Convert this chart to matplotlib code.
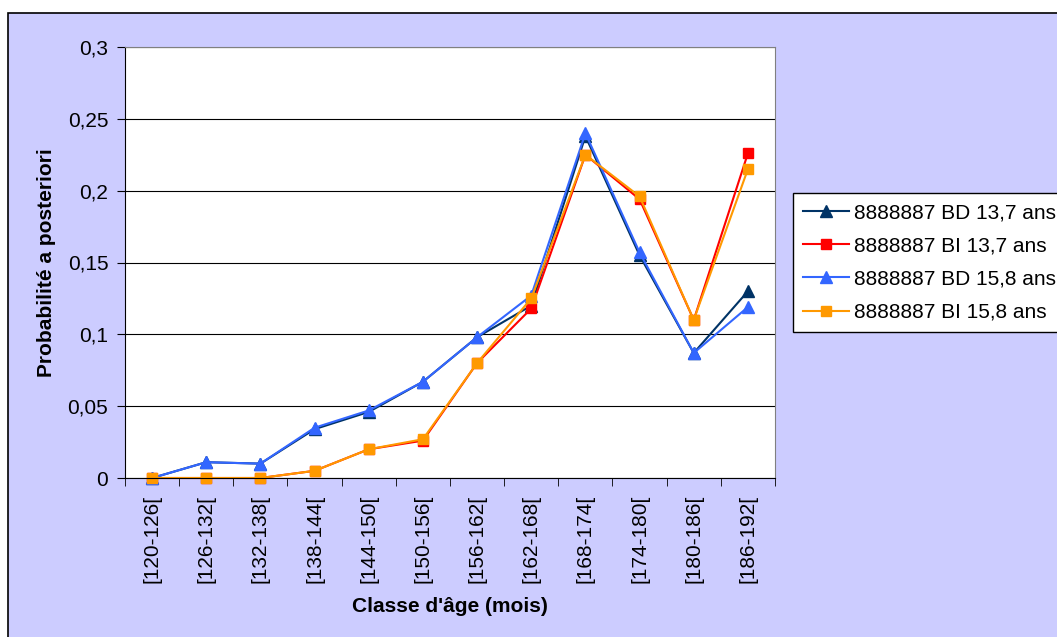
import matplotlib.pyplot as plt
import numpy as np
from matplotlib.patches import Rectangle

plt.rcParams['font.family'] = ['Liberation Sans', 'DejaVu Sans']

classes = ['[120-126[', '[126-132[', '[132-138[', '[138-144[', '[144-150[', '[150-156[',
           '[156-162[', '[162-168[', '[168-174[', '[174-180[', '[180-186[', '[186-192[']

bd_137 = [0.0, 0.011, 0.010, 0.034, 0.046, 0.067, 0.098, 0.120, 0.238, 0.155, 0.087, 0.130]
bi_137 = [0.0, 0.0, 0.0, 0.005, 0.020, 0.026, 0.080, 0.118, 0.225, 0.194, 0.110, 0.226]
bd_158 = [0.0, 0.011, 0.010, 0.035, 0.047, 0.067, 0.098, 0.127, 0.240, 0.157, 0.087, 0.119]
bi_158 = [0.0, 0.0, 0.0, 0.005, 0.020, 0.027, 0.080, 0.125, 0.225, 0.196, 0.110, 0.215]

yticks = [0, 0.05, 0.1, 0.15, 0.2, 0.25, 0.3]
ytick_labels = ['0', '0,05', '0,1', '0,15', '0,2', '0,25', '0,3']

FS = 15
W, H = 1057, 637
fig = plt.figure(figsize=(W / 100, H / 100), dpi=100)
fig.patch.set_facecolor('white')

# chart area background with black frame, behind everything
bg = fig.add_axes([0, 0, 1, 1], zorder=-1)
bg.set_axis_off()
bg.set_xlim(0, 1)
bg.set_ylim(0, 1)
bg.add_patch(Rectangle((8 / W, -0.05), 1.2, 1 - 13 / H + 0.05,
                       facecolor='#CCCCFF', edgecolor='black', linewidth=1.2))

ax = fig.add_axes([125 / W, 1 - 478 / H, 650 / W, 431 / H])
ax.set_facecolor('white')

x = np.arange(len(classes))
style = dict(linewidth=1.5, clip_on=False)
ax.plot(x, bd_137, color='#003366', marker='^', markersize=9, label='8888887 BD 13,7 ans', **style)
ax.plot(x, bi_137, color='#FF0000', marker='s', markersize=7, label='8888887 BI 13,7 ans', **style)
ax.plot(x, bd_158, color='#3366FF', marker='^', markersize=9, label='8888887 BD 15,8 ans', **style)
ax.plot(x, bi_158, color='#FF9900', marker='s', markersize=7, label='8888887 BI 15,8 ans', **style)

ax.set_xlim(-0.5, len(classes) - 0.5)
ax.set_ylim(0, 0.3)
ax.set_yticks(yticks)
ax.set_yticklabels(ytick_labels, fontsize=FS)
ax.yaxis.grid(True, color='black', linewidth=0.8)
ax.set_axisbelow(True)

ax.set_xticks(x)
ax.set_xticklabels(classes, rotation=90, fontsize=FS)
ax.tick_params(axis='x', which='major', length=0, pad=12)
ax.set_xticks(np.arange(len(classes) + 1) - 0.5, minor=True)
ax.tick_params(axis='x', which='minor', length=6, color='black', direction='out')
ax.tick_params(axis='y', length=6, direction='out', pad=6)

for side in ['top', 'right']:
    ax.spines[side].set_color('#808080')
for side in ['left', 'bottom']:
    ax.spines[side].set_color('black')

ax.set_xlabel("Classe d'âge (mois)", fontsize=FS, fontweight='bold', labelpad=10)
ax.set_ylabel('Probabilité a posteriori', fontsize=FS, fontweight='bold', labelpad=8)

leg = fig.legend(loc='upper left', bbox_to_anchor=(793 / W, 1 - 193 / H), fontsize=FS,
                 frameon=True, fancybox=False, edgecolor='black', framealpha=1,
                 handlelength=2.2, handletextpad=0.25, borderpad=0.5, labelspacing=0.68,
                 borderaxespad=0)
leg.get_frame().set_linewidth(1.0)

plt.savefig('out.png', dpi=100, facecolor=fig.get_facecolor())
